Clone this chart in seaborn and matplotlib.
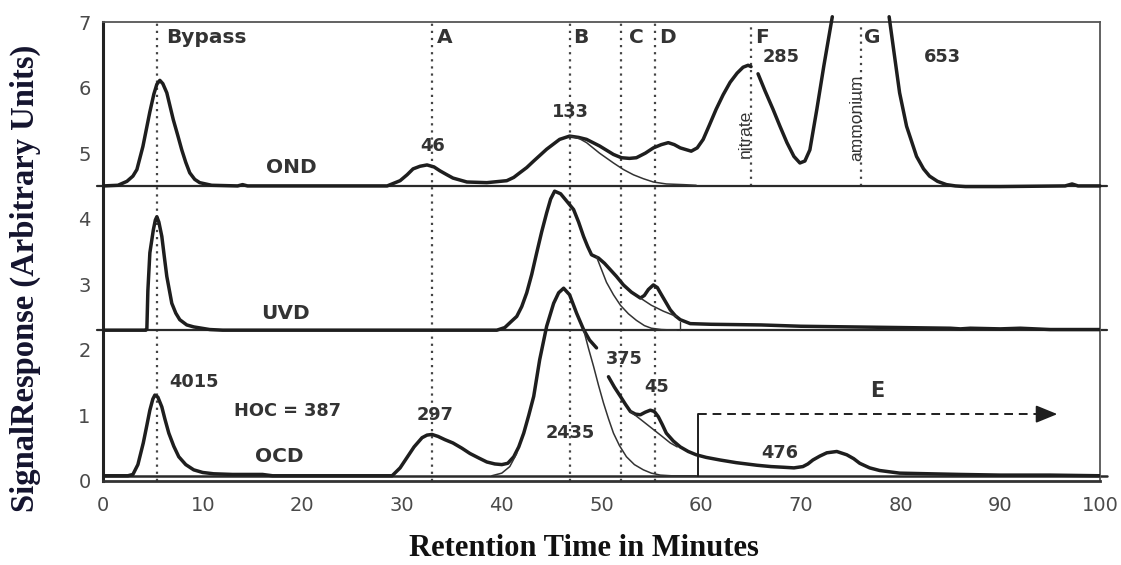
import matplotlib
matplotlib.use("Agg")
import matplotlib.pyplot as plt
import seaborn as sns
import numpy as np
import pandas as pd

# ---------------- data ----------------
# OND trace (upper panel), broken at the nitrate peak and leaving the frame at the ammonium peak
ond1_x = [0, 1.5, 2.4, 3.0, 3.4, 4.0, 4.7, 5.1, 5.4, 5.7, 6.0, 6.4, 7.05, 7.5, 7.9, 8.3, 8.7, 9.2,
          9.7, 10.9, 13.5, 14.0, 14.5, 20, 28.5, 29.8, 30.5, 31.1, 31.8, 32.5, 33.2, 33.8, 34.5, 35.1,
          36.5, 38.5, 40.5, 41.2, 41.8, 42.5, 43.2, 44.5, 45.8, 46.8, 47.7, 48.5, 49.8, 51.2, 52.0,
          52.8, 53.5, 54.4, 55.2, 56.0, 56.7, 57.3, 57.9, 59.0, 59.6, 60.2, 60.8, 61.5, 62.2, 62.9,
          63.6, 64.2, 64.7, 65.0]
ond1_y = [4.5, 4.51, 4.57, 4.65, 4.75, 5.1, 5.63, 5.9, 6.05, 6.11, 6.06, 5.92, 5.51, 5.27, 5.05, 4.86,
          4.7, 4.6, 4.55, 4.51, 4.5, 4.52, 4.5, 4.5, 4.5, 4.58, 4.67, 4.76, 4.80, 4.82, 4.79, 4.73, 4.67,
          4.62, 4.56, 4.55, 4.58, 4.63, 4.7, 4.78, 4.88, 5.06, 5.21, 5.26, 5.24, 5.21, 5.11, 4.98, 4.93,
          4.92, 4.93, 5.0, 5.08, 5.13, 5.16, 5.13, 5.08, 5.03, 5.08, 5.21, 5.42, 5.67, 5.89, 6.08, 6.22,
          6.31, 6.34, 6.32]
ond2_x = [65.7, 66.4, 67.2, 67.9, 68.6, 69.3, 69.9, 70.4, 70.9, 71.6, 72.3, 73.15]
ond2_y = [6.21, 5.95, 5.67, 5.41, 5.16, 4.95, 4.85, 4.88, 5.05, 5.67, 6.33, 7.08]
ond3_x = [78.85, 79.3, 79.9, 80.6, 81.6, 82.3, 82.9, 83.7, 84.6, 85.5, 86.5, 90, 96.5, 97.2, 97.8, 100]
ond3_y = [7.08, 6.58, 5.92, 5.41, 4.95, 4.76, 4.65, 4.57, 4.52, 4.5, 4.49, 4.49, 4.5, 4.53, 4.5, 4.5]
ond_fit_x = [46.8, 47.8, 48.5, 49.8, 51.2, 52.2, 53.2, 54.2, 55.2, 56.5, 58.2, 59.5]
ond_fit_y = [5.26, 5.22, 5.16, 5.0, 4.85, 4.75, 4.67, 4.61, 4.56, 4.53, 4.52, 4.51]

# UVD trace (middle panel)
uvd_x = [0, 4.3, 4.4, 4.5, 4.7, 5.05, 5.25, 5.4, 5.6, 5.9, 6.15, 6.4, 6.9, 7.3, 7.7, 8.4, 9.1, 10.7,
         12, 39.5, 40.3, 41.0, 41.5, 42.0, 42.5, 43.0, 43.5, 44.0, 44.5, 44.9, 45.3, 45.9, 46.5, 47.2,
         47.7, 48.2, 48.6, 49.0, 49.7, 50.3, 50.9, 51.5, 52.2, 53.0, 53.9, 54.3, 54.7, 55.2, 55.6,
         55.9, 56.4, 56.9, 57.4, 57.9, 58.9, 61, 66, 70, 75, 80, 85, 86, 87, 90, 92, 95, 100]
uvd_y = [2.3, 2.3, 2.32, 2.9, 3.48, 3.83, 3.98, 4.03, 3.95, 3.73, 3.42, 3.12, 2.71, 2.56, 2.46, 2.38,
         2.35, 2.31, 2.3, 2.3, 2.34, 2.44, 2.51, 2.66, 2.87, 3.15, 3.48, 3.8, 4.09, 4.3, 4.42, 4.38,
         4.27, 4.14, 3.95, 3.73, 3.58, 3.45, 3.40, 3.32, 3.22, 3.12, 2.99, 2.88, 2.79, 2.83, 2.92, 2.99,
         2.95, 2.87, 2.74, 2.61, 2.52, 2.46, 2.40, 2.39, 2.38, 2.36, 2.35, 2.34, 2.33, 2.32, 2.33,
         2.32, 2.33, 2.31, 2.31]
uvd_fitB_x = [49.5, 50.5, 51.2, 51.9, 52.7, 53.5, 54.3, 55.0, 56.0, 57.5]
uvd_fitB_y = [3.42, 3.03, 2.84, 2.68, 2.55, 2.45, 2.37, 2.33, 2.31, 2.30]
uvd_fitC_x = [53.9, 55.0, 56.2, 57.5]
uvd_fitC_y = [2.79, 2.68, 2.59, 2.51]

# OCD trace (lower panel), broken after the main peak
ocd1_x = [0, 2.5, 3.0, 3.5, 4.04, 4.4, 4.7, 5.0, 5.2, 5.5, 5.9, 6.2, 6.6, 7.1, 7.6, 8.3, 9.1, 10,
          11.1, 13, 16, 17, 29, 29.8, 30.5, 31.2, 32.0, 32.5, 33.0, 33.6, 34.3, 35.1, 36.0, 36.8,
          37.7, 38.5, 39.3, 40.0, 40.6, 41.2, 41.7, 42.2, 42.7, 43.2, 43.8, 44.5, 45.2, 45.7, 46.2,
          46.8, 47.5, 48.2, 48.8, 49.5]
ocd1_y = [0.08, 0.08, 0.1, 0.25, 0.58, 0.85, 1.08, 1.25, 1.31, 1.28, 1.13, 0.95, 0.73, 0.53, 0.37,
          0.25, 0.17, 0.13, 0.11, 0.1, 0.1, 0.08, 0.08, 0.2, 0.36, 0.52, 0.66, 0.7, 0.71, 0.68, 0.63,
          0.58, 0.5, 0.42, 0.35, 0.29, 0.26, 0.25, 0.27, 0.37, 0.52, 0.73, 1.0, 1.29, 1.85, 2.36, 2.71,
          2.87, 2.94, 2.84, 2.56, 2.31, 2.15, 2.03]
ocd2_x = [50.7, 51.3, 51.9, 52.4, 52.9, 53.4, 53.9, 54.4, 54.9, 55.3, 55.7, 56.1, 56.5, 57.2, 57.9,
          58.7, 59.5, 60.5, 61.9, 63.5, 65.6, 67, 68.2, 69.3, 70.2, 70.7, 71.2, 71.9, 72.6, 73.6,
          74.6, 75.3, 75.9, 76.9, 77.9, 79.9, 82.9, 86, 90, 95, 100]
ocd2_y = [1.59, 1.43, 1.29, 1.17, 1.06, 1.02, 1.01, 1.05, 1.08, 1.06, 0.98, 0.86, 0.73, 0.61, 0.52,
          0.45, 0.40, 0.36, 0.32, 0.28, 0.24, 0.22, 0.21, 0.2, 0.22, 0.26, 0.32, 0.38, 0.43, 0.45,
          0.40, 0.34, 0.27, 0.2, 0.16, 0.12, 0.11, 0.1, 0.09, 0.09, 0.08]
ocd_fitB_left_x = [39.0, 40.0, 40.8, 41.5]
ocd_fitB_left_y = [0.08, 0.12, 0.22, 0.42]
ocd_fitB_x = [48.2, 48.7, 49.2, 49.7, 50.2, 50.7, 51.2, 51.8, 52.5, 53.3, 54.2, 55.0, 55.9, 57.0, 59.5]
ocd_fitB_y = [2.31, 2.02, 1.75, 1.46, 1.19, 0.95, 0.73, 0.54, 0.37, 0.25, 0.17, 0.12, 0.09, 0.08, 0.08]
ocd_fitD_x = [52.9, 54.0, 55.0, 56.0, 56.9, 57.6]
ocd_fitD_y = [1.06, 0.93, 0.81, 0.69, 0.58, 0.52]

# baselines of the three detector panels
panel_baselines = [4.5, 2.3, 0.08]
# fraction markers (dotted verticals): name, time, lower end
fraction_names = ["Bypass", "A", "B", "C", "D", "F", "G"]
fraction_times = [5.4, 33.0, 46.8, 52.0, 55.4, 65.0, 76.0]
fraction_bottoms = [0, 0, 0, 0, 0, 4.5, 4.5]
fraction_label_x = [6.3, 33.5, 47.2, 52.8, 55.8, 65.4, 76.3]

detector_names = ["OND", "UVD", "OCD"]
detector_label_x = [18.9, 18.3, 17.7]
detector_label_y = [4.78, 2.55, 0.37]

peak_labels = ["46", "133", "285", "653", "4015", "HOC = 387", "297", "2435", "375", "45", "476", "E"]
peak_label_x = [33.1, 46.9, 68.0, 84.2, 9.1, 18.5, 33.3, 46.9, 52.3, 55.5, 67.9, 77.7]
peak_label_y = [5.11, 5.63, 6.47, 6.47, 1.51, 1.07, 1.0, 0.73, 1.86, 1.44, 0.43, 1.38]

e_start, e_end, e_level = 59.7, 96.0, 1.02

x_ticks = list(range(0, 101, 10))
y_ticks = list(range(0, 8))

# ---------------- figure ----------------
sns.set_theme(style="white")
plt.rcParams['font.family'] = ['DejaVu Sans']

fig = plt.figure(figsize=(11.21, 5.65), dpi=100)
ax = fig.add_axes([103 / 1121, 84 / 565, 997 / 1121, 459 / 565])
ax.set_xlim(0, 100)
ax.set_ylim(0, 7)

ink = "#1e1e1e"
grey = "#444444"

# panel baselines / separators
for b in panel_baselines[:2]:
    ax.plot([-0.6, 100.7], [b, b], color="#2a2a2a", lw=1.6, clip_on=False, zorder=2)
ax.plot([0, 100.7], [panel_baselines[2]] * 2, color="#2a2a2a", lw=1.8, clip_on=False, zorder=2)

# dotted fraction lines
for t, lo in zip(fraction_times, fraction_bottoms):
    ax.plot([t, t], [lo, 7], color=grey, lw=1.6, ls=(0, (1, 2.2)), zorder=1)

# main traces
def trace(xs, ys, lw=2.5, color=ink, clip=True):
    df = pd.DataFrame({"t": xs, "s": ys})
    sns.lineplot(data=df, x="t", y="s", ax=ax, color=color, lw=lw, estimator=None,
                 sort=False, solid_joinstyle="round", solid_capstyle="round", zorder=4,
                 clip_on=clip)

for xs, ys in [(ond1_x, ond1_y), (uvd_x, uvd_y), (ocd1_x, ocd1_y), (ocd2_x, ocd2_y)]:
    trace(xs, ys)
for xs, ys in [(ond2_x, ond2_y), (ond3_x, ond3_y)]:
    trace(xs, ys, clip=False)
for xs, ys in [(ond_fit_x, ond_fit_y), (uvd_fitB_x, uvd_fitB_y), (uvd_fitC_x, uvd_fitC_y),
               (ocd_fitB_left_x, ocd_fitB_left_y), (ocd_fitB_x, ocd_fitB_y), (ocd_fitD_x, ocd_fitD_y)]:
    trace(xs, ys, lw=1.1, color="#333333")
ax.plot([57.9, 57.9], [2.3, 2.42], color="#333333", lw=1.0, zorder=4)

# E range marker
ax.plot([e_start, e_start], [panel_baselines[2], e_level], color=ink, lw=1.4, zorder=4)
ax.plot([e_start, e_end - 2.2], [e_level, e_level], color=ink, lw=1.4, ls=(0, (4.5, 3)), zorder=4)
ax.annotate("", xy=(e_end, e_level), xytext=(e_end - 2.6, e_level),
            arrowprops=dict(arrowstyle="-|>,head_length=1.1,head_width=0.45", color=ink, lw=1.3))

# text labels
lab_col = "#333333"
for name, x in zip(fraction_names, fraction_label_x):
    ax.text(x, 6.76, name, fontsize=14.5, fontweight="bold", color=lab_col, ha="left", va="center")
for name, x, y in zip(detector_names, detector_label_x, detector_label_y):
    ax.text(x, y, name, fontsize=14.5, fontweight="bold", color=lab_col, ha="center", va="center")
for name, x, y in zip(peak_labels, peak_label_x, peak_label_y):
    fs = 15 if name == "E" else 12.8
    ax.text(x, y, name, fontsize=fs, fontweight="bold", color=lab_col, ha="center", va="center")
ax.text(64.4, 5.3, "nitrate", rotation=90, fontsize=12.5, color=lab_col, ha="center", va="center",
        family="Liberation Sans")
ax.text(75.6, 5.54, "ammonium", rotation=90, fontsize=12.5, color=lab_col, ha="center", va="center",
        family="Liberation Sans")

# axes styling
ax.set_xticks(x_ticks)
ax.set_yticks(y_ticks)
ax.set_xticklabels([str(v) for v in x_ticks])
ax.set_yticklabels([str(v) for v in y_ticks])
ax.tick_params(axis="both", direction="out", length=5, width=1.3, color="#333333",
               labelsize=14, labelcolor="#4a4a4a", pad=4)
ax.tick_params(axis="x", pad=6)
ax.set_xlabel("")
ax.set_ylabel("")
for side in ["top", "right"]:
    ax.spines[side].set_color("#555555")
    ax.spines[side].set_linewidth(1.3)
ax.spines["left"].set_color("#222222")
ax.spines["left"].set_linewidth(2.2)
ax.spines["bottom"].set_color("#333333")
ax.spines["bottom"].set_linewidth(2.0)

fig.text(25 / 1121, 1 - 278 / 565, "SignalResponse (Arbitrary Units)", rotation=90,
         fontsize=23.5, fontweight="bold", family="Liberation Serif", color="#14142e",
         ha="center", va="center")
fig.text(584 / 1121, 1 - 548 / 565, "Retention Time in Minutes", fontsize=22,
         fontweight="bold", family="Liberation Serif", color="#111111", ha="center", va="center")

fig.savefig("out.png", dpi=100, facecolor="white")
